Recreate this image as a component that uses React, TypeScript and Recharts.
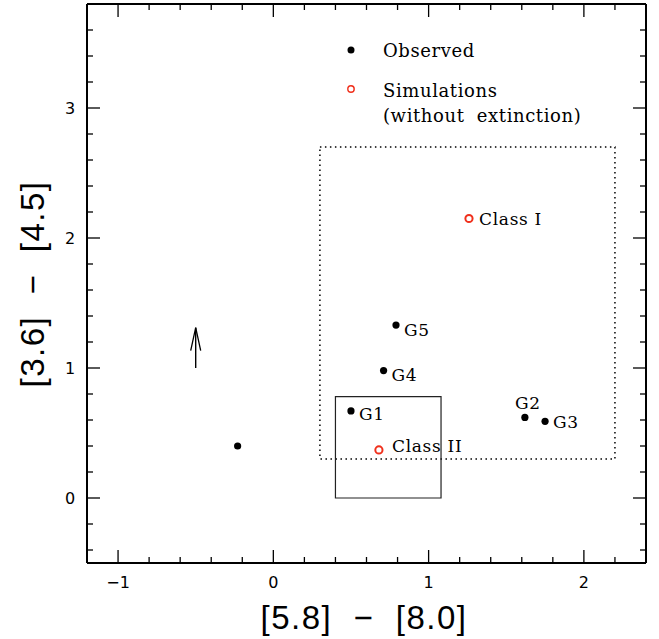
import React from "react";
import {
  ScatterChart,
  Scatter,
  XAxis,
  YAxis,
  ReferenceArea,
  ReferenceLine,
  ReferenceDot,
} from "recharts";

// colour-colour points
const observed = [
  { name: "", x: -0.23, y: 0.4 },
  { name: "G1", x: 0.5, y: 0.67 },
  { name: "G4", x: 0.71, y: 0.98 },
  { name: "G5", x: 0.79, y: 1.33 },
  { name: "G2", x: 1.62, y: 0.62 },
  { name: "G3", x: 1.75, y: 0.59 },
];

const simulations = [
  { name: "Class I", x: 1.26, y: 2.15 },
  { name: "Class II", x: 0.68, y: 0.37 },
];

const xTicks = [
  -1, -0.8, -0.6, -0.4, -0.2, 0, 0.2, 0.4, 0.6, 0.8, 1, 1.2, 1.4, 1.6, 1.8, 2,
  2.2,
];
const yTicks = [
  -0.4, -0.2, 0, 0.2, 0.4, 0.6, 0.8, 1, 1.2, 1.4, 1.6, 1.8, 2, 2.2, 2.4, 2.6,
  2.8, 3, 3.2, 3.4, 3.6,
];

const dottedBox = { x1: 0.3, x2: 2.2, y1: 0.3, y2: 2.7 };
const solidBox = { x1: 0.4, x2: 1.08, y1: 0, y2: 0.78 };
const arrow = { x: -0.5, y1: 1.0, y2: 1.31 };

// where each label sits relative to its marker (px)
const labelPos: Record<string, { dx: number; dy: number; anchor: string }> = {
  G1: { dx: 8, dy: 3, anchor: "start" },
  G4: { dx: 8, dy: 4, anchor: "start" },
  G5: { dx: 8, dy: 5, anchor: "start" },
  G2: { dx: 3, dy: -14, anchor: "middle" },
  G3: { dx: 8, dy: 1, anchor: "start" },
  "Class I": { dx: 10, dy: 0, anchor: "start" },
  "Class II": { dx: 13, dy: -4, anchor: "start" },
};

const W = 659;
const H = 639;
// each axis takes 1px, so the plot box is 87..646 x 4..563
const M = { top: 3, right: 12, bottom: 75, left: 86 };

const RED = "#f0301c";
const SERIF = "'DejaVu Serif', serif";
const SANS = "'DejaVu Sans', sans-serif";

const isMajor = (v: number) => Math.abs(v - Math.round(v)) < 1e-6;
const fmt = (v: number) => {
  const r = Math.round(v);
  return r < 0 ? "\u2212" + Math.abs(r) : String(r);
};

const tickLen = (v: number) => (isMajor(v) ? 13 : 6);

function makeTick(side: "bottom" | "top" | "left" | "right") {
  return (p: any) => {
    const v = p.payload.value;
    const len = tickLen(v);
    const { x, y } = p;
    let line;
    if (side === "bottom") line = { x1: x, x2: x, y1: y, y2: y - len };
    else if (side === "top") line = { x1: x, x2: x, y1: y, y2: y + len };
    else if (side === "left") line = { x1: x, x2: x + len, y1: y, y2: y };
    else line = { x1: x, x2: x - len, y1: y, y2: y };
    return (
      <g>
        <line {...line} stroke="#000" strokeWidth={1.3} />
        {side === "bottom" && isMajor(v) && (
          <text
            x={x}
            y={y + 19.5}
            textAnchor="middle"
            dominantBaseline="central"
            fontFamily={SANS}
            fontSize={16}
            fill="#000"
          >
            {fmt(v)}
          </text>
        )}
        {side === "left" && isMajor(v) && (
          <text
            x={x - 17}
            y={y}
            textAnchor="middle"
            dominantBaseline="central"
            fontFamily={SANS}
            fontSize={16}
            fill="#000"
          >
            {fmt(v)}
          </text>
        )}
      </g>
    );
  };
}

function PointShape(props: any) {
  const { cx, cy, payload, hollow } = props;
  const name = payload?.name ?? props.name;
  const pos = labelPos[name];
  return (
    <g>
      {hollow ? (
        <circle cx={cx} cy={cy} r={3.6} fill="none" stroke={RED} strokeWidth={2} />
      ) : (
        <circle cx={cx} cy={cy} r={3.6} fill="#000" />
      )}
      {pos && (
        <text
          x={cx + pos.dx}
          y={cy + pos.dy}
          textAnchor={pos.anchor as any}
          dominantBaseline="central"
          fontFamily={SERIF}
          fontSize={17}
          letterSpacing={0.7}
          fill="#000"
        >
          {name}
        </text>
      )}
    </g>
  );
}

const axisLine = { stroke: "#000", strokeWidth: 2 };
const legendText = {
  dominantBaseline: "central" as const,
  fontFamily: SERIF,
  fontSize: 18,
  letterSpacing: 0.6,
  wordSpacing: 6,
};

export default function App() {
  return (
    <div style={{ position: "absolute", left: 0, top: 0, width: W, height: H, background: "#fff" }}>
      <ScatterChart width={W} height={H} margin={M}>
        <XAxis
          xAxisId="b"
          type="number"
          dataKey="x"
          domain={[-1.2, 2.4]}
          allowDataOverflow
          ticks={xTicks}
          interval={0}
          orientation="bottom"
          height={1}
          tickSize={0}
          tickMargin={0}
          tickLine={false}
          axisLine={axisLine}
          tick={makeTick("bottom")}
        />
        <XAxis
          xAxisId="t"
          type="number"
          dataKey="x"
          domain={[-1.2, 2.4]}
          allowDataOverflow
          ticks={xTicks}
          interval={0}
          orientation="top"
          height={1}
          tickSize={0}
          tickMargin={0}
          tickLine={false}
          axisLine={axisLine}
          tick={makeTick("top")}
        />
        <YAxis
          yAxisId="l"
          type="number"
          dataKey="y"
          domain={[-0.5, 3.8]}
          allowDataOverflow
          ticks={yTicks}
          interval={0}
          orientation="left"
          width={1}
          tickSize={0}
          tickMargin={0}
          tickLine={false}
          axisLine={axisLine}
          tick={makeTick("left")}
        />
        <YAxis
          yAxisId="r"
          type="number"
          dataKey="y"
          domain={[-0.5, 3.8]}
          allowDataOverflow
          ticks={yTicks}
          interval={0}
          orientation="right"
          width={1}
          tickSize={0}
          tickMargin={0}
          tickLine={false}
          axisLine={axisLine}
          tick={makeTick("right")}
        />

        <ReferenceArea
          xAxisId="b"
          yAxisId="l"
          {...dottedBox}
          fill="none"
          stroke="#000"
          strokeWidth={1.5}
          strokeDasharray="1.5 3.5"
        />
        <ReferenceArea
          xAxisId="b"
          yAxisId="l"
          {...solidBox}
          fill="none"
          stroke="#222"
          strokeWidth={1.2}
        />
        <ReferenceLine
          xAxisId="b"
          yAxisId="l"
          segment={[
            { x: arrow.x, y: arrow.y1 },
            { x: arrow.x, y: arrow.y2 },
          ]}
          stroke="#000"
          strokeWidth={1.4}
        />
        <ReferenceDot
          xAxisId="b"
          yAxisId="l"
          x={arrow.x}
          y={arrow.y2}
          r={0}
          shape={(p: any) => (
            <path
              d={`M${p.cx - 5},${p.cy + 23} L${p.cx},${p.cy} L${p.cx + 5},${p.cy + 23}`}
              fill="none"
              stroke="#000"
              strokeWidth={1.3}
            />
          )}
        />

        <Scatter
          xAxisId="b"
          yAxisId="l"
          data={observed}
          isAnimationActive={false}
          shape={(p: any) => <PointShape {...p} />}
        />
        <Scatter
          xAxisId="b"
          yAxisId="l"
          data={simulations}
          isAnimationActive={false}
          shape={(p: any) => <PointShape {...p} hollow />}
        />
      </ScatterChart>

      <svg
        width={W}
        height={H}
        style={{ position: "absolute", left: 0, top: 0, pointerEvents: "none" }}
      >
        <circle cx={351} cy={50} r={3.5} fill="#000" />
        <text x={383} y={50.5} {...legendText}>
          Observed
        </text>
        <circle cx={351} cy={89} r={3.2} fill="none" stroke={RED} strokeWidth={1.4} />
        <text x={383} y={90} {...legendText}>
          Simulations
        </text>
        <text x={383} y={115} {...legendText}>
          (without extinction)
        </text>

        <text
          x={364}
          y={617}
          textAnchor="middle"
          dominantBaseline="central"
          fontFamily="'Liberation Sans', sans-serif"
          fontSize={33}
          letterSpacing={1.5}
          style={{ whiteSpace: "pre" }}
        >
          {"[5.8]  \u2212  [8.0]"}
        </text>
        <text
          x={32}
          y={284}
          transform="rotate(-90 32 284)"
          textAnchor="middle"
          dominantBaseline="central"
          fontFamily="'Liberation Sans', sans-serif"
          fontSize={33}
          letterSpacing={1.5}
          style={{ whiteSpace: "pre" }}
        >
          {"[3.6]  \u2212  [4.5]"}
        </text>
      </svg>
    </div>
  );
}
